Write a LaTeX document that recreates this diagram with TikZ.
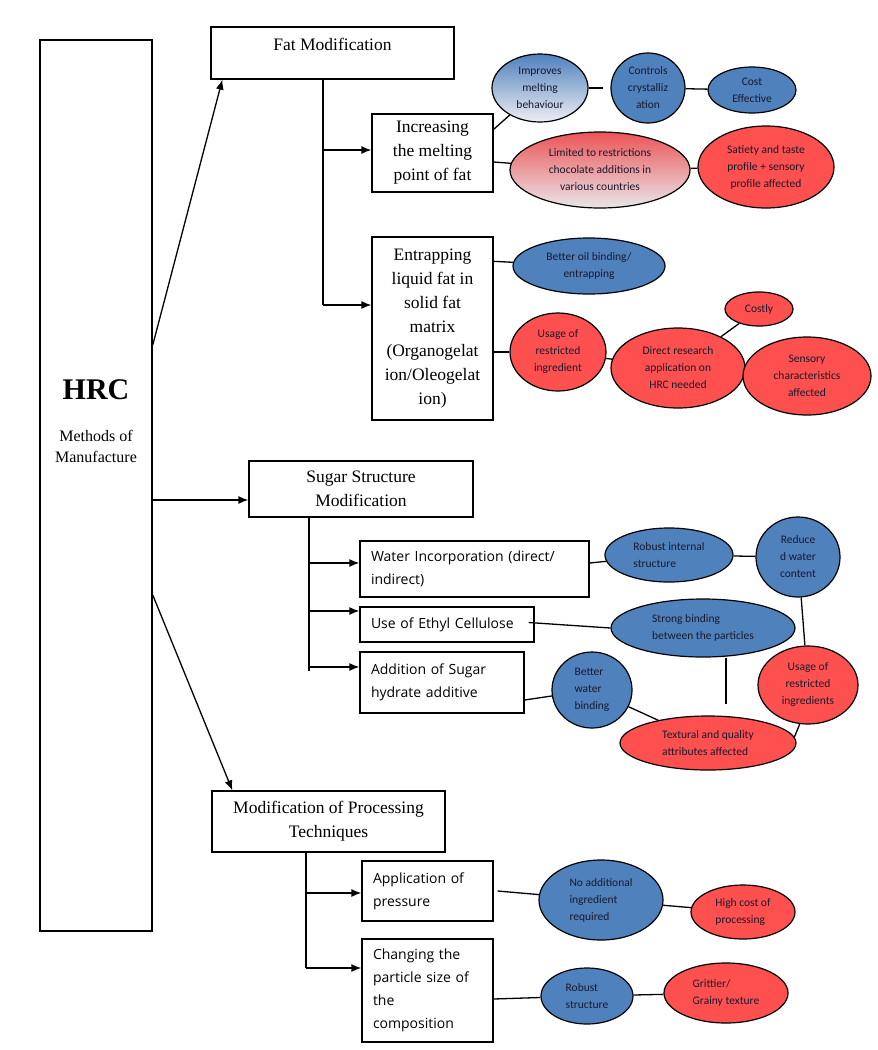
\documentclass[tikz,border=0pt]{standalone}
\usepackage{fontspec}
\setmainfont{Liberation Serif}
\newfontfamily\bsans{Open Sans}
\newfontfamily\esans{Carlito}
\usetikzlibrary{shapes.geometric,arrows.meta}
\definecolor{eblue}{RGB}{79,129,189}
\definecolor{ered}{RGB}{255,80,80}
\definecolor{etext}{RGB}{25,25,45}
\definecolor{gbmid}{RGB}{128,148,182}
\definecolor{gbbot}{RGB}{238,238,242}
\definecolor{grtop}{RGB}{236,84,86}
\definecolor{grmid}{RGB}{208,118,124}
\definecolor{grbot}{RGB}{234,230,234}
\begin{document}
\begin{tikzpicture}[x=1pt,y=-1pt,
 boxs/.style={draw, line width=1.3pt, rectangle, inner sep=0pt, font=\fontsize{17.5}{24}\selectfont, align=center},
 boxo/.style={draw, line width=1.3pt, rectangle, inner xsep=11pt, inner ysep=0pt, font=\bsans\fontsize{14}{23}\selectfont, align=left},
 ell/.style={draw, line width=1.2pt, ellipse, inner sep=0pt, font=\esans\fontsize{11.5}{17}\selectfont, align=center, text=etext},
 bl/.style={ell, fill=eblue},
 rd/.style={ell, fill=ered},
 arr/.style={line width=1.3pt, -{Latex[length=10pt,width=8pt]}},
 ln/.style={line width=1.3pt},
]
\useasboundingbox (0,0) rectangle (878,1050);
% main box
\node[draw, line width=1.5pt, minimum width=112pt, minimum height=891pt] (main) at (96,485.5) {};
\node[font=\bfseries\fontsize{30}{32}\selectfont] (hrc) at (96,390) {HRC};
\node[font=\fontsize{16}{21}\selectfont, align=center] (mom) at (96,446.5) {Methods of\\Manufacture};
% fat section
\node[boxs, minimum width=243pt, minimum height=52pt] (fat) at (332.5,53) {};
\node[font=\fontsize{17.5}{24}\selectfont] (fatt) at (332.5,44) {Fat Modification};
\node[boxs, minimum width=121pt, minimum height=78pt] (inc) at (432.5,153) {Increasing\\the melting\\point of fat};
\node[boxs, minimum width=121pt, minimum height=183pt] (entr) at (432.5,328.5) {Entrapping\\liquid fat in\\solid fat\\matrix\\(Organogelat\\ion/Oleogelat\\ion)};
% sugar section
\node[boxs, minimum width=224pt, minimum height=56pt] (sugar) at (361,489) {Sugar Structure\\Modification};
\node[boxo, text width=207pt, minimum height=56pt] (water) at (474.5,569) {Water Incorporation (direct/\\indirect)};
\node[boxo, text width=152pt, minimum height=35pt] (ethyl) at (447,624.5) {Use of Ethyl Cellulose};
\node[boxo, text width=142pt, minimum height=61pt] (addit) at (442,682.5) {Addition of Sugar\\hydrate additive};
% processing section
\node[boxs, minimum width=233pt, minimum height=61pt] (proc) at (328.5,821.5) {Modification of Processing\\Techniques};
\node[boxo, text width=109pt, minimum height=60pt] (appl) at (427.5,891) {Application of\\pressure};
\node[boxo, text width=109pt, minimum height=103pt] (chg) at (427.5,990.5) {Changing the\\particle size of\\the\\composition};
% fat ellipses
\node[ell, top color=eblue, middle color=gbmid, bottom color=gbbot, minimum width=96pt, minimum height=68pt] (imp) at (540,88) {Improves\\melting\\behaviour};
\node[bl, minimum width=74pt, minimum height=70pt] (ctrl) at (648,88) {Controls\\crystalliz\\ation};
\node[bl, minimum width=88pt, minimum height=46pt] (cost) at (752,90) {Cost\\Effective};
\node[ell, top color=grtop, middle color=grmid, bottom color=grbot, minimum width=180pt, minimum height=76pt] (lim) at (600,170) {Limited to restrictions\\chocolate additions in\\various countries};
\node[rd, minimum width=136pt, minimum height=82pt] (sat) at (766,167) {Satiety and taste\\profile + sensory\\profile affected};
\node[bl, minimum width=152pt, minimum height=56pt] (oil) at (589,266) {Better oil binding/\\entrapping};
\node[rd, minimum width=96pt, minimum height=78pt] (usage) at (558,352) {Usage of\\restricted\\ingredient};
\node[rd, minimum width=134pt, minimum height=80pt] (direct) at (678,368) {Direct research\\application on\\HRC needed};
\node[rd, minimum width=68pt, minimum height=34pt] (costly) at (759,309) {Costly};
\node[rd, minimum width=128pt, minimum height=78pt] (sens) at (807,376) {Sensory\\characteristics\\affected};
% sugar ellipses
\node[bl, align=left, minimum width=128pt, minimum height=54pt] (rob) at (669,555) {Robust internal\\structure};
\node[bl, minimum width=84pt, minimum height=80pt] (redw) at (798,557) {Reduce\\d water\\content};
\node[bl, align=left, minimum width=184pt, minimum height=58pt] (strong) at (703,628) {Strong binding\\between the particles};
\node[rd, minimum width=100pt, minimum height=78pt] (use2) at (808,685) {Usage of\\restricted\\ingredients};
\node[bl, align=left, minimum width=80pt, minimum height=76pt] (bw) at (592,690) {Better\\water\\binding};
\node[rd, align=left, minimum width=176pt, minimum height=54pt] (tex) at (708,743) {Textural and quality\\attributes affected};
% processing ellipses
\node[bl, align=left, minimum width=124pt, minimum height=80pt] (noadd) at (601,900) {No additional\\ingredient\\required};
\node[rd, align=left, minimum width=104pt, minimum height=54pt] (high) at (743,912) {High cost of\\processing};
\node[bl, align=left, minimum width=92pt, minimum height=56pt] (rob2) at (587,996) {Robust\\structure};
\node[rd, align=left, minimum width=124pt, minimum height=60pt] (grit) at (726,993) {Grittier/\\Grainy texture};
% main arrows
\draw[arr] ([yshift=140.5pt]main.east) -- ([xshift=12pt]fat.south west);
\draw[arr] ([yshift=-14.5pt]main.east) -- ([yshift=-11pt]sugar.west);
\draw[arr] ([yshift=-109.5pt]main.east) -- ([xshift=21pt]proc.north west);
% fat trunk
\coordinate (fj1) at (323,150);
\coordinate (fj2) at (323,305);
\draw[ln] (fat.south -| fj1) -- (fj2);
\draw[arr] (fj1) -- (fj1 -| inc.west);
\draw[arr] (fj2) -- (fj2 -| entr.west);
% sugar trunk
\coordinate (sj1) at (309,563);
\coordinate (sj2) at (309,611);
\coordinate (sj3) at (309,667);
\coordinate (sj4) at (309,671);
\draw[ln] (sugar.south -| sj1) -- (sj4);
\draw[arr] (sj1) -- (sj1 -| water.west);
\draw[arr] (sj2) -- (sj2 -| ethyl.west);
\draw[arr] (sj3) -- (sj3 -| addit.west);
% processing trunk
\coordinate (pj1) at (306,893);
\coordinate (pj2) at (306,968);
\draw[ln] (proc.south -| pj1) -- (pj2);
\draw[arr] (pj1) -- (pj1 -| appl.west);
\draw[arr] (pj2) -- (pj2 -| chg.west);
% fat connectors
\draw[ln] ([yshift=-16pt]inc.north east) -- (imp);
\draw[ln] ([yshift=-9pt]inc.east) -- (lim);
\draw[ln, dash pattern=on 14pt off 8pt] (imp) -- (ctrl);
\draw[ln] (ctrl) -- (cost);
\draw[ln] (lim) -- (sat);
\draw[ln] ([yshift=-25pt]entr.north east) -- (oil);
\draw[ln] ([yshift=-23.5pt]entr.east) -- (usage);
\draw[ln] (usage) -- (direct);
\draw[ln] (direct) -- (costly);
% sugar connectors
\draw[ln] ([yshift=6pt]water.east) -- (rob);
\draw[ln] (rob) -- (redw);
\draw[ln] ([xshift=-6pt,yshift=2pt]ethyl.east) -- (strong.west);
\coordinate (sfree) at (726,704);
\draw[ln] (sfree |- strong.south) -- (sfree);
\draw[ln] (redw) -- (use2);
\draw[ln] ([yshift=-17.5pt]addit.east) -- (bw);
\draw[ln] (bw) -- (tex);
\draw[ln] (tex.4) -- (use2.258);
% processing connectors
\draw[ln] ([xshift=4pt]appl.east) -- (noadd);
\draw[ln] (noadd) -- (high);
\draw[ln] ([yshift=-8.5pt]chg.east) -- (rob2);
\draw[ln] (rob2) -- (grit);
\end{tikzpicture}
\end{document}
